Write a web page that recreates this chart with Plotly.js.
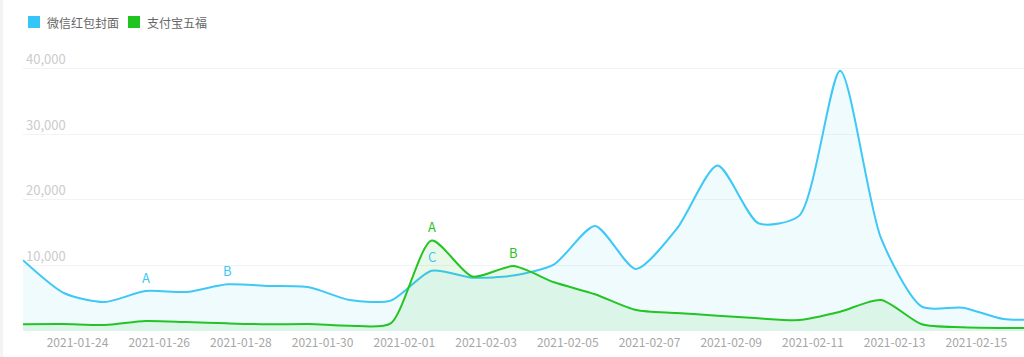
<!DOCTYPE html>
<html>
<head>
<meta charset="utf-8">
<script src="https://cdn.plot.ly/plotly-3.0.1.min.js"></script>
<style>
html,body{margin:0;padding:0;background:#fff;}
#chart{width:1024px;height:357px;}
#edge{position:absolute;left:0;top:0;width:3px;height:357px;background:#f3f3f3;}
</style>
</head>
<body>
<div id="chart"></div>
<div id="edge"></div>
<script>
const dates = ['2021-01-22 16:00','2021-01-23 16:00','2021-01-24 16:00','2021-01-25 16:00','2021-01-26 16:00',
  '2021-01-27 16:00','2021-01-28 16:00','2021-01-29 16:00','2021-01-30 16:00','2021-01-31 16:00',
  '2021-02-01 16:00','2021-02-02 16:00','2021-02-03 16:00','2021-02-04 16:00','2021-02-05 16:00',
  '2021-02-06 16:00','2021-02-07 16:00','2021-02-08 16:00','2021-02-09 16:00','2021-02-10 16:00',
  '2021-02-11 16:00','2021-02-12 16:00','2021-02-13 16:00','2021-02-14 16:00','2021-02-15 16:00',
  '2021-02-16 16:00'];
const seriesNames = ['微信红包封面', '支付宝五福'];
const wechat = [10800, 5800, 4430, 6100, 5950, 7130, 6870, 6670, 4730, 4630, 9200, 8140, 8450, 10180, 16030,
  9470, 15580, 25240, 16440, 17600, 39700, 14150, 3710, 3560, 1830, 1800];
const alipay = [1020, 1050, 920, 1530, 1370, 1170, 1020, 1070, 810, 1170, 13800, 8300, 9900, 7430, 5600,
  3200, 2750, 2340, 1930, 1680, 2950, 4730, 1020, 560, 460, 430];
const yTicks = [10000, 20000, 30000, 40000];
// mark labels: [series index, point index, label]
const marks = [[0, 3, 'A'], [0, 5, 'B'], [0, 10, 'C'], [1, 10, 'A'], [1, 12, 'B']];

const lineColors = ['#3ec8f6', '#25c425'];
const fillColors = ['rgba(62,200,246,0.08)', 'rgba(37,196,37,0.10)'];
const legendColors = ['#33c6f6', '#1fc41f'];
const values = [wechat, alipay];

const traces = values.map((v, i) => ({
  x: dates, y: v, name: seriesNames[i], type: 'scatter', mode: 'lines',
  line: {color: lineColors[i], width: 2, shape: 'spline', smoothing: 0.7},
  fill: 'tozeroy', fillcolor: fillColors[i], showlegend: false, hoverinfo: 'x+y'
}));

const annotations = marks.map(m => ({
  x: dates[m[1]], y: values[m[0]][m[1]], xref: 'x', yref: 'y', text: m[2], showarrow: false,
  yanchor: 'middle', yshift: 14, font: {family: 'Noto Sans CJK SC, sans-serif', size: 13, color: lineColors[m[0]]}
}));

// legend drawn as squares + text
const legendX = [28, 128];
const shapes = [];
seriesNames.forEach((n, i) => {
  shapes.push({type: 'rect', xref: 'paper', yref: 'paper',
    x0: (legendX[i] - 23) / 1001, x1: (legendX[i] + 12 - 23) / 1001,
    y0: 1 + (36 - 28) / 295, y1: 1 + (36 - 16) / 295,
    fillcolor: legendColors[i], line: {width: 0}});
  annotations.push({xref: 'paper', yref: 'paper', x: (legendX[i] + 17 - 23) / 1001, y: 1 + (36 - 22) / 295,
    xanchor: 'left', yanchor: 'middle', showarrow: false, text: n,
    font: {family: 'Noto Sans CJK SC, sans-serif', size: 12, color: '#666'}});
});

const layout = {
  width: 1024, height: 357,
  margin: {l: 23, r: 0, t: 36, b: 26},
  paper_bgcolor: '#fff', plot_bgcolor: '#fff',
  showlegend: false,
  font: {family: 'Noto Sans CJK SC, sans-serif'},
  xaxis: {
    type: 'date', range: ['2021-01-22 16:00', '2021-02-16 04:00'],
    tick0: '2021-01-24', dtick: 2 * 86400000, tickformat: '%Y-%m-%d',
    showgrid: false, zeroline: false, showline: false, ticks: '',
    ticklabelstandoff: 3,
    tickfont: {size: 12, color: '#a6a6a6'}
  },
  yaxis: {
    range: [0, 45000], tickvals: yTicks, tickformat: ',d',
    ticklabelposition: 'inside top', showgrid: true, gridcolor: '#f3f3f3', gridwidth: 1,
    zeroline: false, showline: false, ticks: '',
    tickfont: {size: 13, color: '#cccccc'}
  },
  shapes: shapes,
  annotations: annotations
};

Plotly.newPlot('chart', traces, layout, {displayModeBar: false, staticPlot: true});
</script>
</body>
</html>
